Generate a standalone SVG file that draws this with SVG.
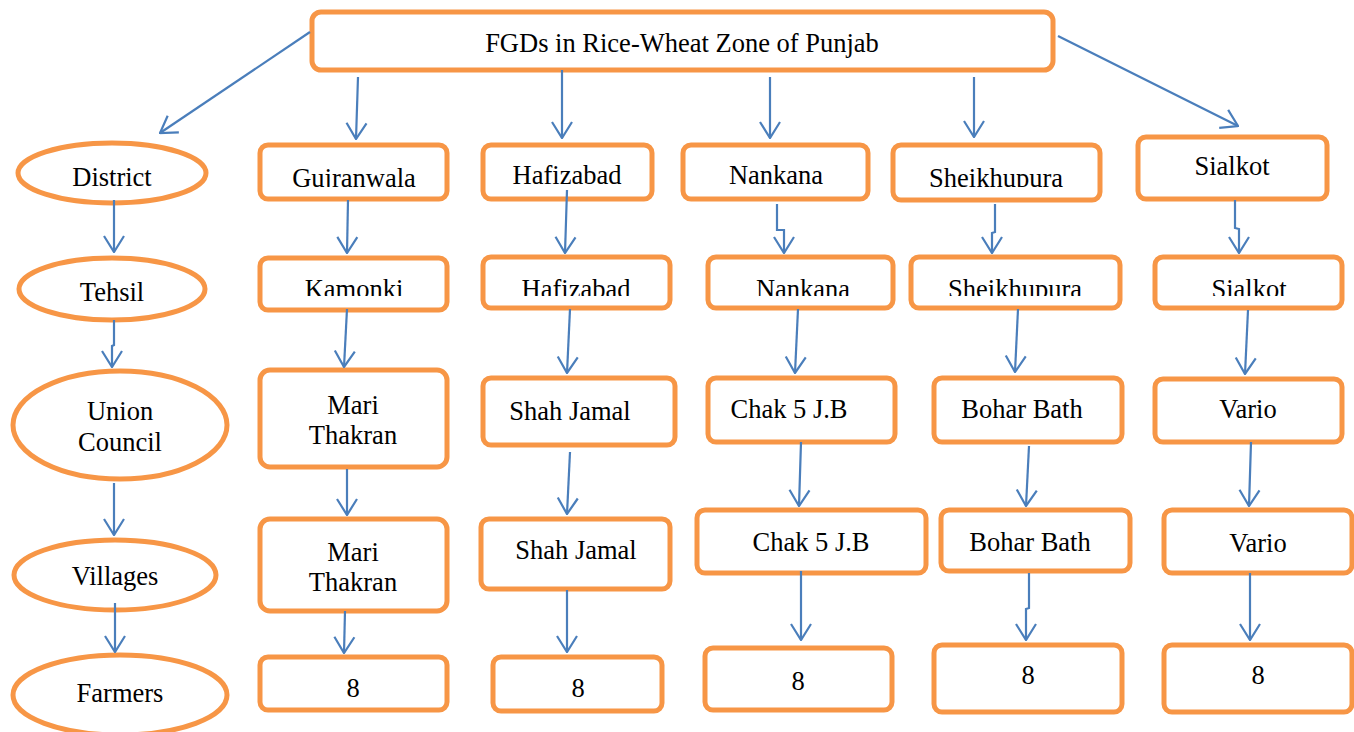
<svg xmlns="http://www.w3.org/2000/svg" width="1354" height="732" viewBox="0 0 1354 732">
<style>
.box{fill:#fff;stroke:#F79646;stroke-width:5}
.t{font-family:"Liberation Serif","DejaVu Serif",serif;font-size:26.5px;fill:#000;text-anchor:middle}
.c{fill:none;stroke:#4A7EBB;stroke-width:2.2;marker-end:url(#ah)}
</style>
<defs>
<marker id="ah" markerUnits="userSpaceOnUse" viewBox="0 0 18 24" refX="17" refY="12" markerWidth="18" markerHeight="24" orient="auto">
<path d="M1,2 L17,12 L1,22" fill="none" stroke="#4A7EBB" stroke-width="2.2"/>
</marker>
<clipPath id="r1"><rect x="0" y="140" width="1354" height="47"/></clipPath>
<clipPath id="r2"><rect x="0" y="250" width="1354" height="46"/></clipPath>
</defs>
<g id="top"><rect class="box" x="312" y="12" width="741" height="58" rx="9"/><text class="t" x="682" y="52">FGDs in Rice-Wheat Zone of Punjab</text></g>
<g id="district"><ellipse class="box" cx="112" cy="173" rx="94" ry="30"/><text class="t" x="112" y="186">District</text></g>
<g id="tehsil"><ellipse class="box" cx="112" cy="289" rx="93" ry="31"/><text class="t" x="112" y="301">Tehsil</text></g>
<g id="union"><ellipse class="box" cx="120" cy="425" rx="107" ry="54"/><text class="t" x="120" y="420">Union</text><text class="t" x="120" y="451">Council</text></g>
<g id="villages"><ellipse class="box" cx="115" cy="575" rx="101" ry="35"/><text class="t" x="115" y="585">Villages</text></g>
<g id="farmers"><ellipse class="box" cx="120" cy="695" rx="107" ry="40"/><text class="t" x="120" y="702">Farmers</text></g>
<g id="c1d"><rect class="box" x="260" y="145" width="187" height="54" rx="8"/><text class="t" x="354" y="187" clip-path="url(#r1)">Gujranwala</text></g>
<g id="c1t"><rect class="box" x="260" y="258" width="187" height="52" rx="8"/><text class="t" x="354" y="298" clip-path="url(#r2)">Kamonki</text></g>
<g id="c1u"><rect class="box" x="260" y="370" width="187" height="97" rx="10"/><text class="t" x="353" y="414">Mari</text><text class="t" x="353" y="444">Thakran</text></g>
<g id="c1v"><rect class="box" x="260" y="519" width="187" height="92" rx="10"/><text class="t" x="353" y="561">Mari</text><text class="t" x="353" y="591">Thakran</text></g>
<g id="c1f"><rect class="box" x="260" y="657" width="187" height="53" rx="8"/><text class="t" x="353" y="697">8</text></g>
<g id="c2d"><rect class="box" x="483" y="145" width="169" height="54" rx="8"/><text class="t" x="567" y="184">Hafizabad</text></g>
<g id="c2t"><rect class="box" x="483" y="257" width="187" height="51" rx="8"/><text class="t" x="576" y="298" clip-path="url(#r2)">Hafizabad</text></g>
<g id="c2u"><rect class="box" x="483" y="378" width="192" height="67" rx="8"/><text class="t" x="570" y="420">Shah Jamal</text></g>
<g id="c2v"><rect class="box" x="481" y="519" width="189" height="70" rx="8"/><text class="t" x="576" y="559">Shah Jamal</text></g>
<g id="c2f"><rect class="box" x="493" y="657" width="169" height="54" rx="8"/><text class="t" x="578" y="697">8</text></g>
<g id="c3d"><rect class="box" x="683" y="145" width="185" height="54" rx="8"/><text class="t" x="776" y="184">Nankana</text></g>
<g id="c3t"><rect class="box" x="708" y="257" width="185" height="51" rx="8"/><text class="t" x="803" y="298" clip-path="url(#r2)">Nankana</text></g>
<g id="c3u"><rect class="box" x="708" y="378" width="187" height="64" rx="8"/><text class="t" x="789" y="418">Chak 5 J.B</text></g>
<g id="c3v"><rect class="box" x="697" y="510" width="229" height="63" rx="8"/><text class="t" x="811" y="551">Chak 5 J.B</text></g>
<g id="c3f"><rect class="box" x="705" y="648" width="187" height="62" rx="8"/><text class="t" x="798" y="690">8</text></g>
<g id="c4d"><rect class="box" x="893" y="145" width="207" height="55" rx="8"/><text class="t" x="996" y="187" clip-path="url(#r1)">Sheikhupura</text></g>
<g id="c4t"><rect class="box" x="911" y="257" width="209" height="51" rx="8"/><text class="t" x="1015" y="298" clip-path="url(#r2)">Sheikhupura</text></g>
<g id="c4u"><rect class="box" x="934" y="378" width="188" height="64" rx="8"/><text class="t" x="1022" y="418">Bohar Bath</text></g>
<g id="c4v"><rect class="box" x="941" y="510" width="189" height="61" rx="8"/><text class="t" x="1030" y="551">Bohar Bath</text></g>
<g id="c4f"><rect class="box" x="934" y="645" width="188" height="67" rx="8"/><text class="t" x="1028" y="684">8</text></g>
<g id="c5d"><rect class="box" x="1138" y="137" width="189" height="62" rx="8"/><text class="t" x="1232" y="175">Sialkot</text></g>
<g id="c5t"><rect class="box" x="1155" y="257" width="187" height="51" rx="8"/><text class="t" x="1249" y="298" clip-path="url(#r2)">Sialkot</text></g>
<g id="c5u"><rect class="box" x="1155" y="379" width="187" height="63" rx="8"/><text class="t" x="1248" y="418">Vario</text></g>
<g id="c5v"><rect class="box" x="1164" y="510" width="188" height="63" rx="8"/><text class="t" x="1258" y="552">Vario</text></g>
<g id="c5f"><rect class="box" x="1164" y="645" width="188" height="67" rx="8"/><text class="t" x="1258" y="684">8</text></g>
<g id="connectors">
<path class="c" d="M310,32 L160,133"/>
<path class="c" d="M1058,36 L1238,126"/>
<path class="c" d="M358,77 L356,139"/>
<path class="c" d="M562,70 L562,138"/>
<path class="c" d="M770,77 L770,138"/>
<path class="c" d="M974,77 L974,137"/>
<path class="c" d="M114,200 L114,252"/>
<path class="c" d="M114,320 L114,345 L112,346 L112,367"/>
<path class="c" d="M114,483 L114,535"/>
<path class="c" d="M115,603 L115,652"/>
<path class="c" d="M348,200 L347,253"/>
<path class="c" d="M347,309 L344,367"/>
<path class="c" d="M347,469 L347,515"/>
<path class="c" d="M345,611 L344,653"/>
<path class="c" d="M567,190 L565,253"/>
<path class="c" d="M570,309 L567,373"/>
<path class="c" d="M570,452 L567,514"/>
<path class="c" d="M567,590 L567,652"/>
<path class="c" d="M777,204 L777,230 L784,230 L784,253"/>
<path class="c" d="M798,309 L795,373"/>
<path class="c" d="M801,442 L799,506"/>
<path class="c" d="M801,571 L801,640"/>
<path class="c" d="M995,204 L995,232 L992,233 L992,253"/>
<path class="c" d="M1018,309 L1015,372"/>
<path class="c" d="M1029,446 L1026,506"/>
<path class="c" d="M1029,573 L1029,608 L1026,609 L1026,640"/>
<path class="c" d="M1235,200 L1235,228 L1239,229 L1239,253"/>
<path class="c" d="M1248,310 L1245,374"/>
<path class="c" d="M1251,442 L1249,506"/>
<path class="c" d="M1250,573 L1250,640"/>
</g>
</svg>
